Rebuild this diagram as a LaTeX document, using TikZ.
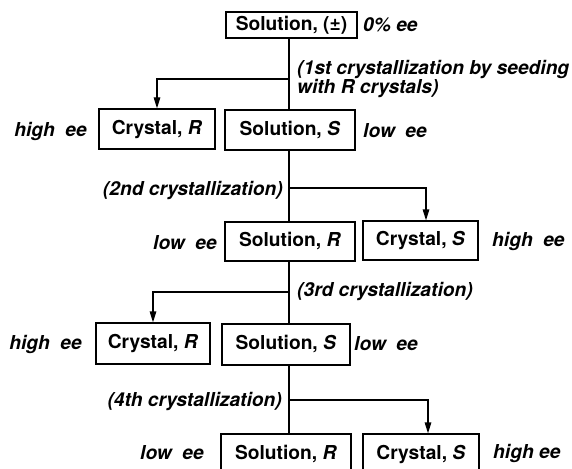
\documentclass[tikz,border=0pt]{standalone}
\usepackage{fontspec}
\setmainfont{TeX Gyre Heros}
\usetikzlibrary{arrows.meta}
\begin{document}
\begin{tikzpicture}[x=1pt,y=-1pt,
  font=\fontsize{19.2}{19.5}\selectfont\bfseries,
  box/.style={draw,line width=1.2pt,inner sep=0pt,minimum width=#1,minimum height=40pt},
  lbl/.style={inner sep=0pt,font=\fontsize{19.2}{19.5}\selectfont\bfseries\itshape},
  link/.style={line width=1.2pt},
  arr/.style={line width=1.2pt,-{Triangle[length=11pt,width=6.5pt]}}]
\useasboundingbox (0,0) rectangle (572,468);

% boxes
\node[box=131pt,minimum height=26pt] (sol0) at (291.5,25) {Solution, (\textpm)};
\node[box=116pt] (cr1)  at (157,129)   {Crystal, \textit{R}};
\node[box=130pt] (sol1) at (290,130)   {Solution, \textit{S}};
\node[box=130pt,minimum height=39pt] (sol2) at (290,241.5) {Solution, \textit{R}};
\node[box=115pt,minimum height=39pt] (cr2)  at (420.5,240.5) {Crystal, \textit{S}};
\node[box=114pt,minimum height=41pt] (cr3)  at (153,343.5) {Crystal, \textit{R}};
\node[box=128pt,minimum height=41pt] (sol3) at (286,344.5) {Solution, \textit{S}};
\node[box=130pt] (sol4) at (286,454)   {Solution, \textit{R}};
\node[box=116pt] (cr4)  at (421,454)   {Crystal, \textit{S}};

% labels
\node[lbl,anchor=west] (l0) at (363,25) {0\% ee};
\node[lbl,anchor=west,align=left] (c1) at (297,79) {(1st crystallization by seeding\\with \textit{R} crystals)};
\node[lbl,anchor=east] (h1) at (87,131) {high\hspace{0.55em}ee};
\node[lbl,anchor=west] (w1) at (363,131) {low\hspace{0.55em}ee};
\node[lbl,anchor=east] (c2) at (283,190) {(2nd crystallization)};
\node[lbl,anchor=east] (w2) at (217,243) {low\hspace{0.55em}ee};
\node[lbl,anchor=west] (h2) at (492,241) {high\hspace{0.55em}ee};
\node[lbl,anchor=west] (c3) at (297,291) {(3rd crystallization)};
\node[lbl,anchor=east] (h3) at (82,344) {high\hspace{0.55em}ee};
\node[lbl,anchor=west] (w3) at (354,344) {low\hspace{0.55em}ee};
\node[lbl,anchor=east] (c4) at (282,401) {(4th crystallization)};
\node[lbl,anchor=east] (w4) at (204,453) {low\hspace{0.55em}ee};
\node[lbl,anchor=west] (h4) at (493,453) {high ee};

% branch points on the main line
\coordinate (j1) at (289,79);
\coordinate (j2) at (289,188);
\coordinate (j3) at (289,292);
\coordinate (j4) at (289,400);
\coordinate (t2) at (426,0);
\coordinate (t4) at (428,0);

% connectors
\draw[link] (sol0.south -| j1) -- (sol1.north -| j1);
\draw[arr]  (j1) -| (cr1.north);
\draw[link] (sol1.south -| j2) -- (sol2.north -| j2);
\draw[arr]  (j2) -| (t2 |- cr2.north);
\draw[link] (sol2.south -| j3) -- (sol3.north -| j3);
\draw[arr]  (j3) -| (cr3.north);
\draw[link] (sol3.south -| j4) -- (sol4.north -| j4);
\draw[arr]  (j4) -| (t4 |- cr4.north);
\end{tikzpicture}
\end{document}
